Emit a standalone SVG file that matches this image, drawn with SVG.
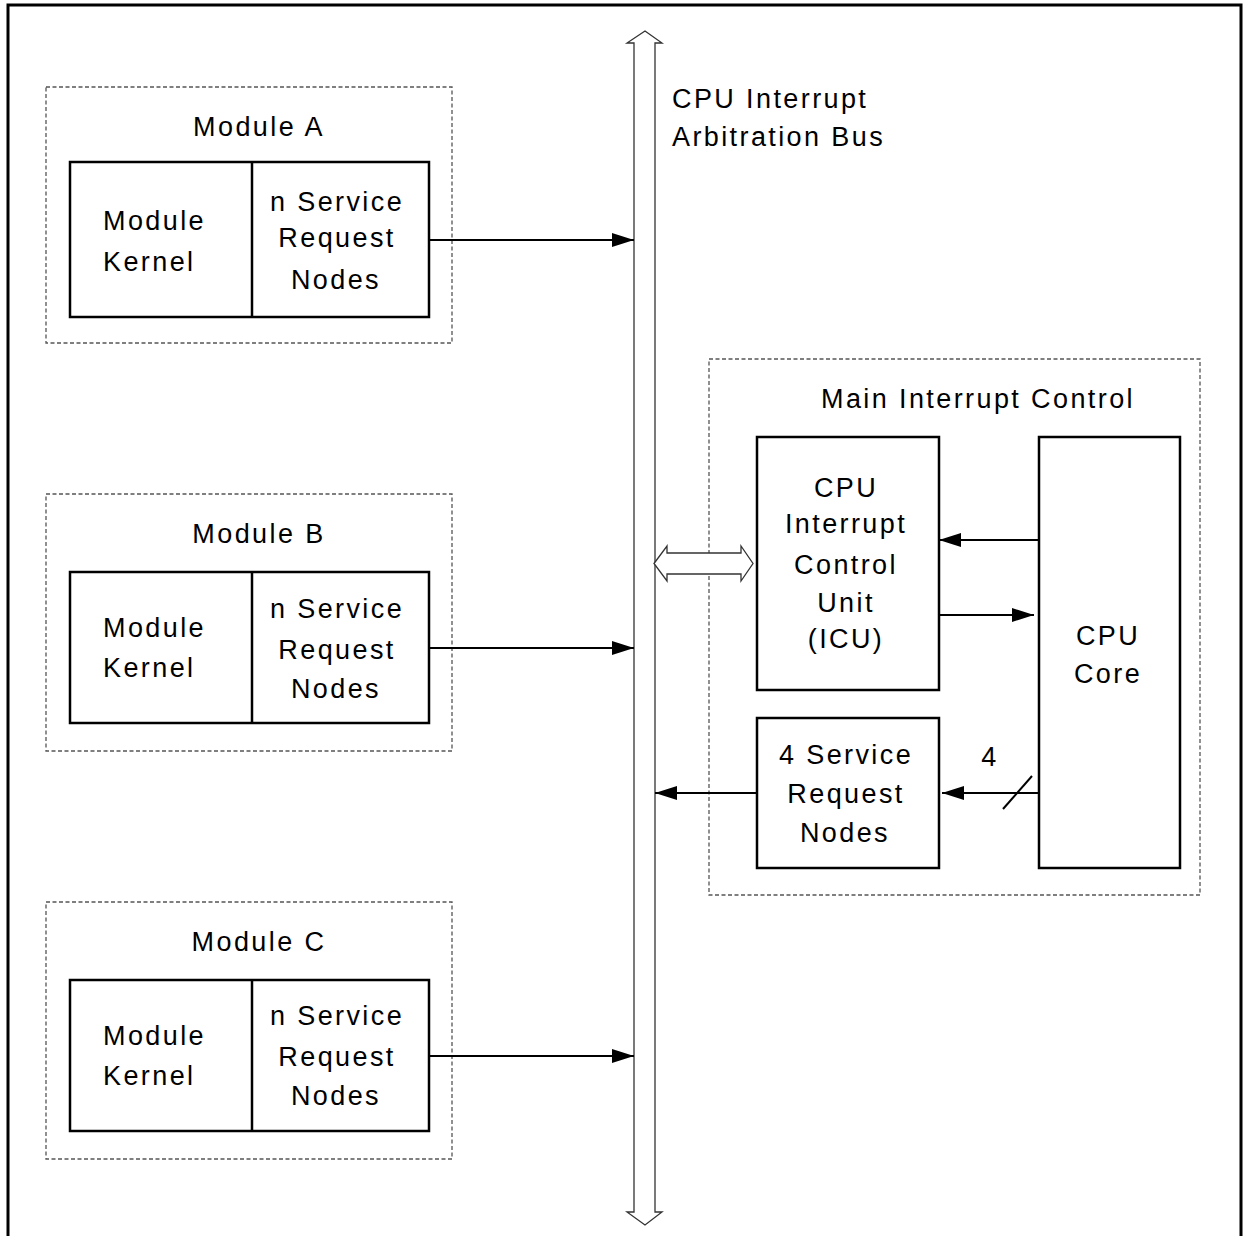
<svg xmlns="http://www.w3.org/2000/svg" width="1243" height="1236" viewBox="0 0 1243 1236">
<style>
.t{font-family:"Liberation Sans",Arial,sans-serif;font-size:27px;letter-spacing:2.4px;fill:#000}
.c{text-anchor:middle}
.dash{fill:none;stroke:#555;stroke-width:1.3;stroke-dasharray:4 2.5}
.box{fill:#fff;stroke:#000;stroke-width:2.5}
.wire{fill:none;stroke:#000;stroke-width:2}
.bus{fill:#fff;stroke:#333;stroke-width:1.3}
</style>
<defs>
<marker id="ah" viewBox="0 0 22 14" refX="22" refY="7" markerWidth="22" markerHeight="14" markerUnits="userSpaceOnUse" orient="auto">
<path d="M0,0 L22,7 L0,14 Z" fill="#000"/>
</marker>
</defs>
<rect width="1243" height="1236" fill="#fff"/>
<path d="M8,1236 V5 H1241 V1236" fill="none" stroke="#000" stroke-width="3"/>

<g id="bus">
<path class="bus" d="M634,1212 V43 H627 L645,31 L662,43 H655 V1212 H662 L645,1225 L627,1212 Z"/>
<text class="t" x="672" y="108">CPU Interrupt</text>
<text class="t" x="672" y="146">Arbitration Bus</text>
</g>

<g id="moduleA">
<rect class="dash" x="46" y="87" width="406" height="256"/>
<text class="t c" x="259" y="136">Module A</text>
<rect class="box" x="70" y="162" width="359" height="155"/>
<line x1="252" y1="162" x2="252" y2="317" stroke="#000" stroke-width="2.5"/>
<text class="t" x="103" y="230">Module</text>
<text class="t" x="103" y="271">Kernel</text>
<text class="t c" x="337" y="211">n Service</text>
<text class="t c" x="337" y="247">Request</text>
<text class="t c" x="336" y="289">Nodes</text>
</g>

<g id="moduleB">
<rect class="dash" x="46" y="494" width="406" height="257"/>
<text class="t c" x="259" y="543">Module B</text>
<rect class="box" x="70" y="572" width="359" height="151"/>
<line x1="252" y1="572" x2="252" y2="723" stroke="#000" stroke-width="2.5"/>
<text class="t" x="103" y="637">Module</text>
<text class="t" x="103" y="677">Kernel</text>
<text class="t c" x="337" y="618">n Service</text>
<text class="t c" x="337" y="659">Request</text>
<text class="t c" x="336" y="698">Nodes</text>
</g>

<g id="moduleC">
<rect class="dash" x="46" y="902" width="406" height="257"/>
<text class="t c" x="259" y="951">Module C</text>
<rect class="box" x="70" y="980" width="359" height="151"/>
<line x1="252" y1="980" x2="252" y2="1131" stroke="#000" stroke-width="2.5"/>
<text class="t" x="103" y="1045">Module</text>
<text class="t" x="103" y="1085">Kernel</text>
<text class="t c" x="337" y="1025">n Service</text>
<text class="t c" x="337" y="1066">Request</text>
<text class="t c" x="336" y="1105">Nodes</text>
</g>

<g id="mainInterruptControl">
<rect class="dash" x="709" y="359" width="491" height="536"/>
<text class="t c" x="978" y="408">Main Interrupt Control</text>
</g>

<g id="icu">
<rect class="box" x="757" y="437" width="182" height="253"/>
<text class="t c" x="846" y="497">CPU</text>
<text class="t c" x="846" y="533">Interrupt</text>
<text class="t c" x="846" y="574">Control</text>
<text class="t c" x="846" y="612">Unit</text>
<text class="t c" x="846" y="648">(ICU)</text>
</g>

<g id="cpuCore">
<rect class="box" x="1039" y="437" width="141" height="431"/>
<text class="t c" x="1108" y="645">CPU</text>
<text class="t c" x="1108" y="683">Core</text>
</g>

<g id="srn4">
<rect class="box" x="757" y="718" width="182" height="150"/>
<text class="t c" x="846" y="764">4 Service</text>
<text class="t c" x="846" y="803">Request</text>
<text class="t c" x="845" y="842">Nodes</text>
</g>

<g id="connectors">
<line class="wire" x1="429" y1="240" x2="634" y2="240" marker-end="url(#ah)"/>
<line class="wire" x1="429" y1="648" x2="634" y2="648" marker-end="url(#ah)"/>
<line class="wire" x1="429" y1="1056" x2="634" y2="1056" marker-end="url(#ah)"/>
<line class="wire" x1="1039" y1="540" x2="939" y2="540" marker-end="url(#ah)"/>
<line class="wire" x1="939" y1="615" x2="1034" y2="615" marker-end="url(#ah)"/>
<line class="wire" x1="1039" y1="793" x2="942" y2="793" marker-end="url(#ah)"/>
<line class="wire" x1="1003" y1="809" x2="1032" y2="776"/>
<text class="t c" x="990" y="766">4</text>
<line class="wire" x1="757" y1="793" x2="655" y2="793" marker-end="url(#ah)"/>
<path class="bus" d="M654,563.5 L667,546 V553 H741 V546 L753,563.5 L741,581 V574 H667 V581 Z"/>
</g>
</svg>
